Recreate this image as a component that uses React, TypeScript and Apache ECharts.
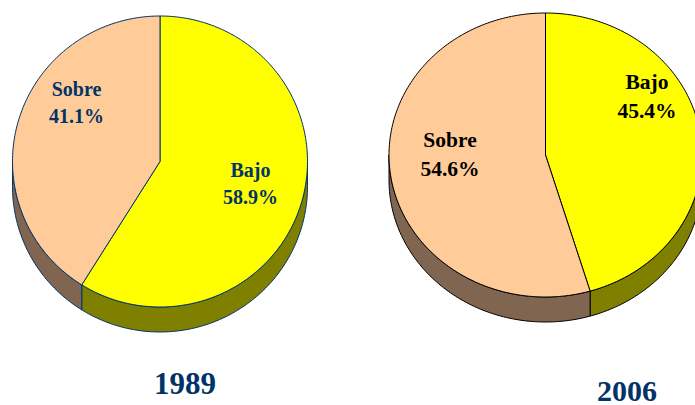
import React, { useEffect, useRef } from "react";
import * as echarts from "echarts";

const categories = ["Bajo", "Sobre"];
const values1989 = [58.9, 41.1];
const values2006 = [45.4, 54.6];
const years = ["1989", "2006"];

const TOP_COLORS = ["#FFFF00", "#FFCC99"];
const WALL_COLORS = ["#808000", "#806650"];
const NAVY = "#003366";
const FONT = '"Liberation Serif", "Times New Roman", serif';

type PieGeom = {
  cx: number; cy: number; rx: number; ry: number; depth: number;
  stroke: string; textColor: string; fontSize: number; lineHeight: number;
  labelAt: number[][];
};

const GEOM_1989: PieGeom = {
  cx: 160, cy: 161.5, rx: 147.5, ry: 145.5, depth: 25,
  stroke: NAVY, textColor: NAVY, fontSize: 20, lineHeight: 27,
  labelAt: [[250.5, 183.5], [76.5, 102.5]],
};
const GEOM_2006: PieGeom = {
  cx: 545.5, cy: 155, rx: 156.5, ry: 142, depth: 25,
  stroke: "#000000", textColor: "#000000", fontSize: 21.5, lineHeight: 29,
  labelAt: [[647, 96], [450, 154.5]],
};

function arc(g: PieGeom, from: number, to: number, dy = 0): number[][] {
  const steps = Math.max(2, Math.ceil(Math.abs(to - from) / 0.02));
  const pts: number[][] = [];
  for (let i = 0; i <= steps; i++) {
    const t = from + ((to - from) * i) / steps;
    pts.push([g.cx + g.rx * Math.sin(t), g.cy - g.ry * Math.cos(t) + dy]);
  }
  return pts;
}

function pieSeries(name: string, values: number[], g: PieGeom) {
  const total = values.reduce((a, b) => a + b, 0);
  const TAU = Math.PI * 2;
  return {
    type: "custom",
    name,
    coordinateSystem: "none",
    silent: true,
    data: values.map((v, i) => ({ name: categories[i], value: [v] })),
    renderItem: (params: any, api: any) => {
      const i = params.dataIndex;
      const before = values.slice(0, i).reduce((a, b) => a + b, 0);
      const value = api.value(0) as number;
      const start = (before / total) * TAU;
      const end = ((before + value) / total) * TAU;
      const children: any[] = [];

      const wallStart = Math.max(start, Math.PI / 2);
      const wallEnd = Math.min(end, (Math.PI * 3) / 2);
      if (wallEnd > wallStart) {
        const pts = [
          ...arc(g, wallStart, wallEnd),
          ...arc(g, wallEnd, wallStart, g.depth),
        ];
        children.push({
          type: "polygon",
          shape: { points: pts },
          style: { fill: WALL_COLORS[i], stroke: g.stroke, lineWidth: 1 },
        });
      }

      children.push({
        type: "polygon",
        shape: { points: [[g.cx, g.cy], ...arc(g, start, end)] },
        style: { fill: TOP_COLORS[i], stroke: g.stroke, lineWidth: 1 },
      });

      children.push({
        type: "text",
        x: g.labelAt[i][0],
        y: g.labelAt[i][1],
        style: {
          text: `${categories[i]}\n${value.toFixed(1)}%`,
          fill: g.textColor,
          font: `bold ${g.fontSize}px ${FONT}`,
          fontSize: g.fontSize,
          fontWeight: "bold",
          fontFamily: FONT,
          lineHeight: g.lineHeight,
          align: "center",
          verticalAlign: "middle",
        },
      });
      return { type: "group", children };
    },
  };
}

export default function App() {
  const ref = useRef<HTMLDivElement>(null);
  useEffect(() => {
    document.body.style.margin = "0";
    const chart = echarts.init(ref.current!, undefined, { renderer: "svg" });
    chart.setOption({
      animation: false,
      backgroundColor: "#ffffff",
      title: [
        {
          text: years[0], left: 154, top: 368, padding: 0,
          textStyle: { fontFamily: FONT, fontWeight: "bold", fontSize: 31, color: NAVY },
        },
        {
          text: years[1], left: 597, top: 375, padding: 0,
          textStyle: { fontFamily: FONT, fontWeight: "bold", fontSize: 30, color: NAVY },
        },
      ],
      series: [
        pieSeries(years[0], values1989, GEOM_1989),
        pieSeries(years[1], values2006, GEOM_2006),
      ],
    });
    return () => chart.dispose();
  }, []);
  return <div ref={ref} style={{ width: 695, height: 405 }} />;
}
